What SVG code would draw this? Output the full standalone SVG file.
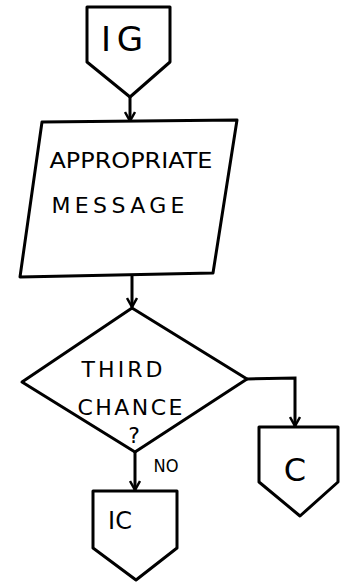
<svg xmlns="http://www.w3.org/2000/svg" width="342" height="585" viewBox="0 0 342 585">
<style>
.s{fill:#fff;stroke:#000;stroke-width:3;stroke-linejoin:round}
.c{fill:none;stroke:#000;stroke-width:3}
.t{font-family:"DejaVu Sans",sans-serif;fill:#000;text-anchor:middle}
</style>
<defs>
<marker id="a" viewBox="0 0 12 12" refX="10" refY="6" markerWidth="12" markerHeight="12" markerUnits="userSpaceOnUse" orient="auto">
<path d="M1,1 L10,6 L1,11" fill="none" stroke="#000" stroke-width="2.5"/>
</marker>
</defs>
<rect width="342" height="585" fill="#fff"/>
<g id="connectors">
<line class="c" x1="130" y1="97" x2="130" y2="121" marker-end="url(#a)"/>
<line class="c" x1="132" y1="276" x2="132" y2="307" marker-end="url(#a)"/>
<line class="c" x1="135" y1="452" x2="135" y2="490" marker-end="url(#a)"/>
<polyline class="c" points="247,379 295,378 295,426" marker-end="url(#a)"/>
<text class="t" x="166" y="472" font-size="18" textLength="25" lengthAdjust="spacingAndGlyphs">NO</text>
</g>
<g id="IG">
<polygon class="s" points="87,7 170,7 170,62 130,97 87,62"/>
<text class="t" x="122" y="51" font-size="34" textLength="42" lengthAdjust="spacing">IG</text>
</g>
<g id="message">
<polygon class="s" points="42,122 237,120 213,273 20,277"/>
<text class="t" x="131" y="168" font-size="22" textLength="163" lengthAdjust="spacingAndGlyphs">APPROPRIATE</text>
<text class="t" x="118" y="213" font-size="22" textLength="133" lengthAdjust="spacing">MESSAGE</text>
</g>
<g id="decision">
<polygon class="s" points="132,308 247,379 135,452 22,382"/>
<text class="t" x="122" y="377" font-size="22" textLength="81" lengthAdjust="spacing">THIRD</text>
<text class="t" x="130" y="415" font-size="22" textLength="105" lengthAdjust="spacing">CHANCE</text>
<text class="t" x="134" y="443" font-size="22">?</text>
</g>
<g id="C">
<polygon class="s" points="259,427 338,427 338,482 300,516 259,482"/>
<text class="t" x="295" y="481" font-size="32">C</text>
</g>
<g id="IC">
<polygon class="s" points="93,491 177,491 177,548 136,580 93,548"/>
<text class="t" x="120" y="529" font-size="24">IC</text>
</g>
</svg>
